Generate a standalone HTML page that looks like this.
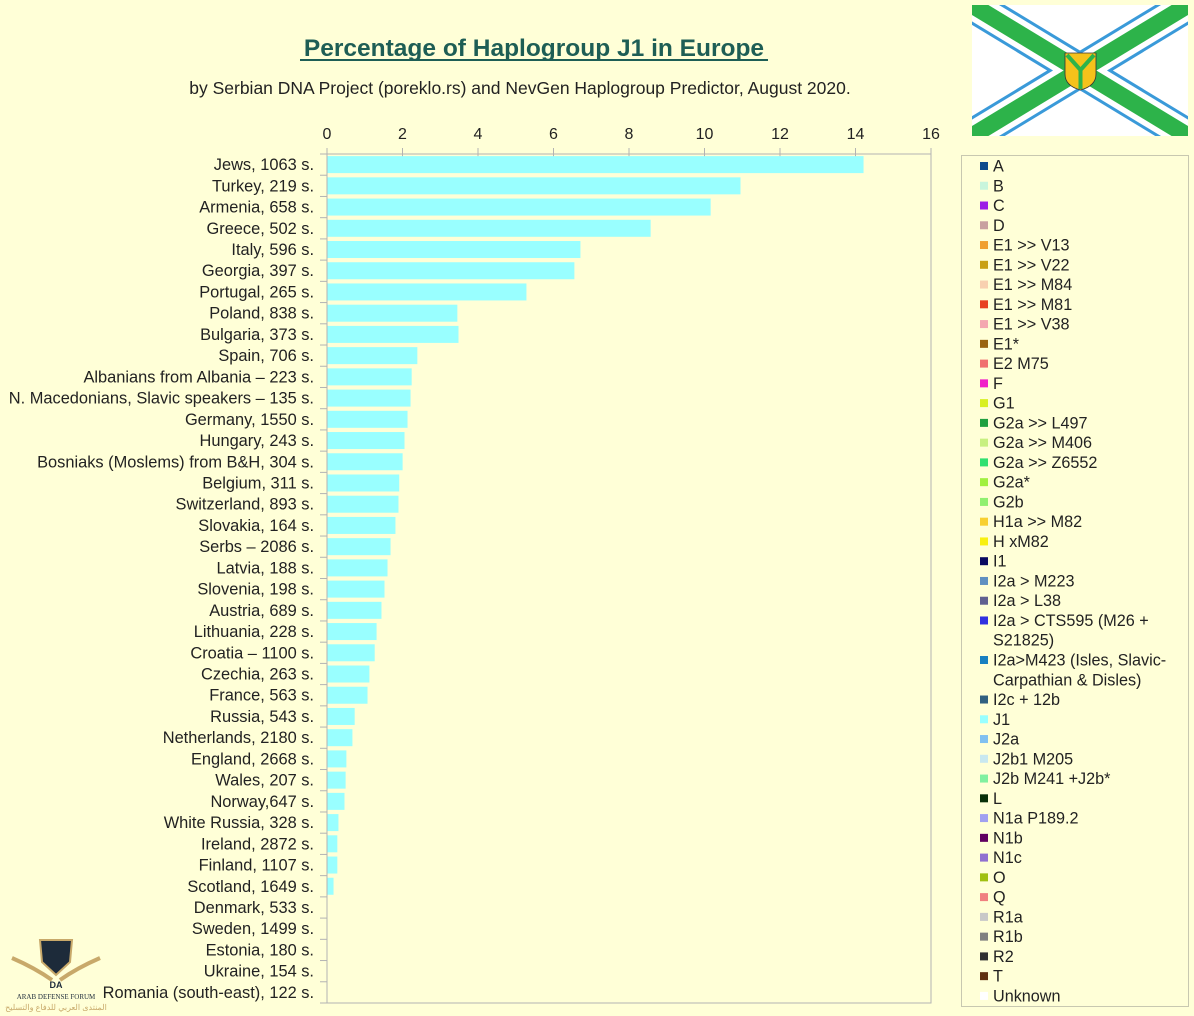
<!DOCTYPE html>
<html><head><meta charset="utf-8"><style>
body{margin:0;background:#FFFFD7;}
svg{display:block;font-family:"Liberation Sans",sans-serif;}
</style></head><body>
<svg width="1194" height="1016" viewBox="0 0 1194 1016" xmlns="http://www.w3.org/2000/svg">
<rect width="1194" height="1016" fill="#FFFFD7"/>
<text x="534" y="56" text-anchor="middle" font-size="24.5" font-weight="bold" fill="#1E5E55">Percentage of Haplogroup J1 in Europe</text>
<line x1="300" y1="60" x2="768" y2="60" stroke="#1E5E55" stroke-width="2"/>
<text x="520" y="94" text-anchor="middle" font-size="17.5" fill="#222">by Serbian DNA Project (poreklo.rs) and NevGen Haplogroup Predictor, August 2020.</text>
<g font-size="16" fill="#222" text-anchor="middle">
<text x="327" y="139">0</text><text x="402.5" y="139">2</text><text x="478" y="139">4</text><text x="553.5" y="139">6</text><text x="629" y="139">8</text><text x="704.5" y="139">10</text><text x="780" y="139">12</text><text x="855.5" y="139">14</text><text x="931" y="139">16</text>
</g>
<rect x="327" y="154" width="604" height="849" fill="none" stroke="#b3b3b3" stroke-width="1"/>
<g stroke="#b3b3b3">
<line x1="327" y1="148" x2="327" y2="160"/><line x1="402.5" y1="148" x2="402.5" y2="160"/><line x1="478" y1="148" x2="478" y2="160"/><line x1="553.5" y1="148" x2="553.5" y2="160"/><line x1="629" y1="148" x2="629" y2="160"/><line x1="704.5" y1="148" x2="704.5" y2="160"/><line x1="780" y1="148" x2="780" y2="160"/><line x1="855.5" y1="148" x2="855.5" y2="160"/><line x1="931" y1="148" x2="931" y2="160"/>
</g>
<g id="rows"></g>
<g id="legend"></g>
<rect x="961.5" y="155.5" width="227" height="851" fill="none" stroke="#c8c8b0"/>
<!-- flag -->
<g>
<rect x="972" y="5" width="216" height="131" fill="#fff"/>
<clipPath id="fc"><rect x="972" y="5" width="216" height="131"/></clipPath>
<g clip-path="url(#fc)">
<line x1="972" y1="5" x2="1188" y2="136" stroke="#3a9ad9" stroke-width="34"/>
<line x1="972" y1="136" x2="1188" y2="5" stroke="#3a9ad9" stroke-width="34"/>
<line x1="972" y1="5" x2="1188" y2="136" stroke="#fff" stroke-width="28"/>
<line x1="972" y1="136" x2="1188" y2="5" stroke="#fff" stroke-width="28"/>
<line x1="972" y1="5" x2="1188" y2="136" stroke="#2db34a" stroke-width="17"/>
<line x1="972" y1="136" x2="1188" y2="5" stroke="#2db34a" stroke-width="17"/>
</g>
<path d="M1065 53 H1096 V74 Q1096 86 1080.5 90 Q1065 86 1065 74 Z" fill="#f5c21b" stroke="#333" stroke-width="0.8"/>
<path d="M1067 55 L1080.5 70 L1094 55 M1080.5 70 V89" stroke="#2db34a" stroke-width="4" fill="none"/>
</g>
<!-- logo -->
<g>
<path d="M40 940 L72 940 L70 962 L56 975 L42 962 Z" fill="#1d2b3a" stroke="#c8a96a" stroke-width="2"/>
<path d="M12 958 Q35 968 52 980 M100 958 Q77 968 60 980" stroke="#c8a96a" stroke-width="4" fill="none"/>
<text x="56" y="988" text-anchor="middle" font-size="9" font-weight="bold" fill="#1d2b3a">DA</text>
<text x="56" y="999" text-anchor="middle" font-size="7" font-family="Liberation Serif,serif" fill="#1d2b3a">ARAB DEFENSE FORUM</text>
<text x="56" y="1010" text-anchor="middle" font-size="8" fill="#c8a96a">المنتدى العربي للدفاع والتسليح</text>
</g>
</svg>
<script>
const data=[["Jews, 1063 s.",14.2],["Turkey, 219 s.",10.94],["Armenia, 658 s.",10.15],["Greece, 502 s.",8.56],["Italy, 596 s.",6.7],["Georgia, 397 s.",6.54],["Portugal, 265 s.",5.27],["Poland, 838 s.",3.44],["Bulgaria, 373 s.",3.47],["Spain, 706 s.",2.38],["Albanians from Albania – 223 s.",2.23],["N. Macedonians, Slavic speakers – 135 s.",2.2],["Germany, 1550 s.",2.12],["Hungary, 243 s.",2.04],["Bosniaks (Moslems) from B&H, 304 s.",1.99],["Belgium, 311 s.",1.9],["Switzerland, 893 s.",1.88],["Slovakia, 164 s.",1.8],["Serbs – 2086 s.",1.67],["Latvia, 188 s.",1.59],["Slovenia, 198 s.",1.51],["Austria, 689 s.",1.43],["Lithuania, 228 s.",1.3],["Croatia – 1100 s.",1.25],["Czechia, 263 s.",1.11],["France, 563 s.",1.06],["Russia, 543 s.",0.72],["Netherlands, 2180 s.",0.66],["England, 2668 s.",0.5],["Wales, 207 s.",0.48],["Norway,647 s.",0.45],["White Russia, 328 s.",0.29],["Ireland, 2872 s.",0.26],["Finland, 1107 s.",0.26],["Scotland, 1649 s.",0.16],["Denmark, 533 s.",0],["Sweden, 1499 s.",0],["Estonia, 180 s.",0],["Ukraine, 154 s.",0],["Romania (south-east), 122 s.",0]];
const NS="http://www.w3.org/2000/svg";
function el(t,a,txt){const e=document.createElementNS(NS,t);for(const k in a)e.setAttribute(k,a[k]);if(txt!==undefined)e.textContent=txt;return e;}
const g=document.getElementById("rows");
const step=849/40;
data.forEach((d,i)=>{const top=154+i*step;const c=top+step/2;
 g.appendChild(el("line",{x1:320,y1:top,x2:327,y2:top,stroke:"#b3b3b3"}));
 if(d[1]>0)g.appendChild(el("rect",{x:327.5,y:c-8.5,width:d[1]*37.75,height:17,fill:"#99FFFF"}));
 g.appendChild(el("text",{x:314,y:c+5.5,"text-anchor":"end","font-size":"16.4",fill:"#222"},d[0]));
});
g.appendChild(el("line",{x1:320,y1:1003,x2:327,y2:1003,stroke:"#b3b3b3"}));
const leg=[["A","#0d4a8c"],["B","#c8f5dc"],["C","#9b1ee6"],["D","#c8a0a0"],["E1 >> V13","#f0a030"],["E1 >> V22","#c8a014"],["E1 >> M84","#f8d0b0"],["E1 >> M81","#e84020"],["E1 >> V38","#f4a8b0"],["E1*","#9a6410"],["E2 M75","#f07070"],["F","#f020c8"],["G1","#d8f020"],["G2a >> L497","#20a040"],["G2a >> M406","#c8f080"],["G2a >> Z6552","#30e070"],["G2a*","#a0f040"],["G2b","#90f070"],["H1a >> M82","#f8d030"],["H xM82","#f8f010"],["I1","#0a0a60"],["I2a > M223","#6090c0"],["I2a > L38","#606090"],["I2a > CTS595 (M26 +","#3030e0",1],["S21825)",null],["I2a>M423 (Isles, Slavic-","#1880c0"],["Carpathian & Disles)",null],["I2c + 12b","#306080"],["J1","#99ffff"],["J2a","#80c0f0"],["J2b1 M205","#c8e8f0"],["J2b M241 +J2b*","#80f0a0"],["L","#083008"],["N1a P189.2","#a0a0f0"],["N1b","#600060"],["N1c","#9070d0"],["O","#a0c010"],["Q","#f08080"],["R1a","#c8c8c8"],["R1b","#808080"],["R2","#303030"],["T","#603010"],["Unknown","#ffffff"]];
const lg=document.getElementById("legend");
leg.forEach((d,i)=>{const y=166+i*19.76;
 if(d[1])lg.appendChild(el("rect",{x:980,y:y-4,width:8,height:8,fill:d[1]}));
 lg.appendChild(el("text",{x:993,y:y+5.5,"font-size":"16.2",fill:"#222"},d[0]));
});
</script>
</body></html>
